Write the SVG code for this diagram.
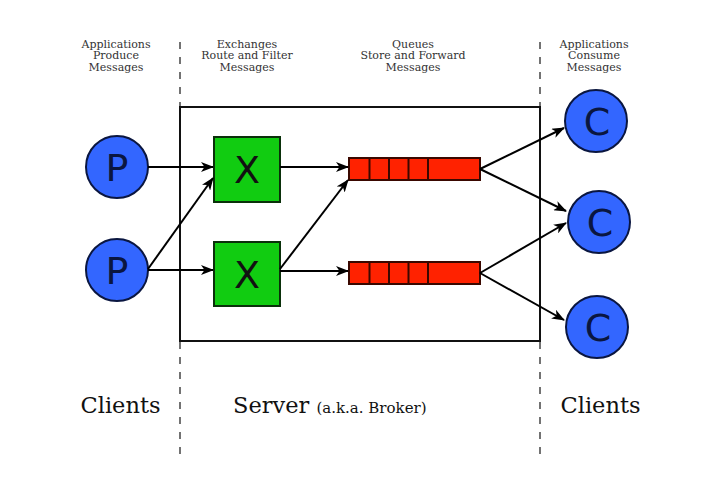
<svg xmlns="http://www.w3.org/2000/svg" width="718" height="484" viewBox="0 0 718 484">
<style>
.hdr{font-family:"DejaVu Serif","Liberation Serif",serif;font-size:11px;fill:#333;text-anchor:middle}
.big{font-family:"DejaVu Serif","Liberation Serif",serif;font-size:22.5px;fill:#111}
.sm{font-size:15px}
.client circle{fill:#3366ff;stroke:#0a1640;stroke-width:2}
.client text{font-family:"DejaVu Sans","Liberation Sans",sans-serif;font-size:38px;fill:#0a1640;text-anchor:middle}
.ex rect{fill:#11cc11;stroke:#0a300a;stroke-width:2}
.ex text{font-family:"DejaVu Sans","Liberation Sans",sans-serif;font-size:38px;fill:#111;text-anchor:middle}
.q rect{fill:#ff2200;stroke:#3a0800;stroke-width:2}
.q line{stroke:#3a0800;stroke-width:2}
.dash{stroke:#444;stroke-width:1.5;stroke-dasharray:7 8;fill:none}
.conn line{stroke:#000;stroke-width:2;marker-end:url(#ah)}
</style>
<defs>
<marker id="ah" viewBox="0 0 13 10" refX="12" refY="5" markerWidth="13" markerHeight="10" markerUnits="userSpaceOnUse" orient="auto">
<path d="M0,0 L13,5 L0,10 L3.5,5 z" fill="#000"/>
</marker>
</defs>
<rect width="718" height="484" fill="#fff"/>
<g id="guides">
<line class="dash" x1="180" y1="42" x2="180" y2="462"/>
<line class="dash" x1="540" y1="42" x2="540" y2="462"/>
</g>
<g id="headers">
<text class="hdr" x="116" y="47.5">Applications<tspan x="116" y="59">Produce</tspan><tspan x="116" y="70.5">Messages</tspan></text>
<text class="hdr" x="247" y="47.5">Exchanges<tspan x="247" y="59">Route and Filter</tspan><tspan x="247" y="70.5">Messages</tspan></text>
<text class="hdr" x="413" y="47.5">Queues<tspan x="413" y="59">Store and Forward</tspan><tspan x="413" y="70.5">Messages</tspan></text>
<text class="hdr" x="594" y="47.5">Applications<tspan x="594" y="59">Consume</tspan><tspan x="594" y="70.5">Messages</tspan></text>
</g>
<g id="server">
<rect x="180" y="107" width="360" height="234" fill="#fff" stroke="#111" stroke-width="2"/>
</g>
<g id="p1" class="client"><circle cx="117" cy="167" r="31"/><text x="117" y="181">P</text></g>
<g id="p2" class="client"><circle cx="117" cy="270" r="31"/><text x="117" y="284">P</text></g>
<g id="x1" class="ex"><rect x="214" y="137" width="66" height="65"/><text x="247" y="183">X</text></g>
<g id="x2" class="ex"><rect x="214" y="242" width="66" height="64"/><text x="247" y="288">X</text></g>
<g id="q1" class="q"><rect x="349" y="158" width="131" height="22"/><line x1="369.5" y1="158" x2="369.5" y2="180"/><line x1="389" y1="158" x2="389" y2="180"/><line x1="408.5" y1="158" x2="408.5" y2="180"/><line x1="428" y1="158" x2="428" y2="180"/></g>
<g id="q2" class="q"><rect x="349" y="262" width="131" height="22"/><line x1="369.5" y1="262" x2="369.5" y2="284"/><line x1="389" y1="262" x2="389" y2="284"/><line x1="408.5" y1="262" x2="408.5" y2="284"/><line x1="428" y1="262" x2="428" y2="284"/></g>
<g id="c1" class="client"><circle cx="596" cy="121" r="31"/><text x="597" y="135">C</text></g>
<g id="c2" class="client"><circle cx="599" cy="222" r="31"/><text x="600" y="236">C</text></g>
<g id="c3" class="client"><circle cx="597" cy="327" r="31"/><text x="598" y="341">C</text></g>
<g id="connectors" class="conn">
<line x1="148" y1="167" x2="213" y2="167"/>
<line x1="148" y1="269" x2="213" y2="178"/>
<line x1="148" y1="270" x2="213" y2="270"/>
<line x1="280" y1="167" x2="348" y2="167"/>
<line x1="280" y1="269" x2="348" y2="180"/>
<line x1="280" y1="271" x2="348" y2="271"/>
<line x1="480" y1="169" x2="564" y2="128"/>
<line x1="480" y1="169" x2="566" y2="211"/>
<line x1="480" y1="273" x2="566" y2="223"/>
<line x1="480" y1="273" x2="564" y2="320"/>
</g>
<g id="labels">
<text class="big" x="120.5" y="413" text-anchor="middle">Clients</text>
<text class="big" x="233" y="413">Server <tspan class="sm">(a.k.a. Broker)</tspan></text>
<text class="big" x="600.5" y="413" text-anchor="middle">Clients</text>
</g>
</svg>
